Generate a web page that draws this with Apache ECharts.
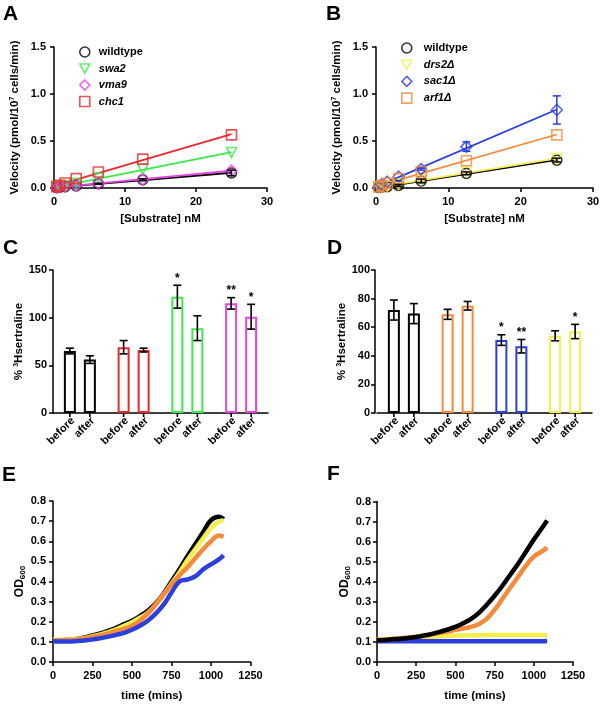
<!DOCTYPE html>
<html><head><meta charset="utf-8">
<script src="https://cdn.jsdelivr.net/npm/echarts@6/dist/echarts.min.js"></script>
<style>html,body{margin:0;padding:0;background:#fff}#c{width:603px;height:706px}</style>
</head><body><div id="c"></div>
<script>
const FONT = "'Liberation Sans', Arial, Helvetica, sans-serif";

// ---------- Panel A ----------
const substrate = [0.39, 0.78, 1.56, 3.125, 6.25, 12.5, 25];
const A_names = ['wildtype', 'swa2', 'vma9', 'chc1'];
const A_wildtype = [0.005, 0.01, 0.015, 0.022, 0.045, 0.088, 0.16];
const A_swa2 = [0.008, 0.014, 0.025, 0.05, 0.105, 0.2, 0.378];
const A_vma9 = [0.005, 0.01, 0.015, 0.025, 0.05, 0.09, 0.185];
const A_chc1 = [0.015, 0.03, 0.053, 0.1, 0.17, 0.307, 0.565];
const A_wildtype_err = [0, 0, 0, 0, 0.005, 0.01, 0.03];

// ---------- Panel B ----------
const B_names = ['wildtype', 'drs2Δ', 'sac1Δ', 'arf1Δ'];
const B_wildtype = [0.005, 0.01, 0.015, 0.028, 0.075, 0.156, 0.297];
const B_drs2 = [0.006, 0.012, 0.02, 0.04, 0.085, 0.17, 0.31];
const B_sac1 = [0.02, 0.04, 0.067, 0.12, 0.2, 0.44, 0.83];
const B_arf1 = [0.012, 0.025, 0.05, 0.1, 0.174, 0.29, 0.565];
const B_wildtype_err = [0, 0, 0, 0.01, 0.02, 0.015, 0.02];
const B_sac1_err = [0, 0, 0, 0, 0.01, 0.05, 0.15];

// ---------- Panel C ----------
const barLabels = ['before', 'after'];
const C_groups = ['wildtype', 'chc1', 'swa2', 'vma9'];
const C_before = [65, 69, 122, 115];
const C_before_err = [3, 7, 12, 6];
const C_after = [56, 66, 89, 101];
const C_after_err = [4, 2, 13, 13];
const C_before_sig = ['', '', '*', '**'];
const C_after_sig = ['', '', '', '*'];

// ---------- Panel D ----------
const D_groups = ['wildtype', 'arf1Δ', 'sac1Δ', 'drs2Δ'];
const D_before = [72, 69, 51, 54];
const D_before_err = [7, 3.5, 3.7, 3.5];
const D_after = [69.5, 75, 46.7, 57];
const D_after_err = [7, 3, 4.7, 5];
const D_before_sig = ['', '', '*', ''];
const D_after_sig = ['', '', '**', '*'];

// ---------- Panel E ----------
const E_time = [0, 50, 100, 150, 200, 250, 300, 350, 400, 450, 500, 550, 600, 650, 700, 750, 800, 850, 900, 950, 1000, 1050, 1080];
const E_black = [0.107, 0.108, 0.11, 0.115, 0.122, 0.132, 0.142, 0.155, 0.17, 0.188, 0.205, 0.228, 0.255, 0.29, 0.34, 0.40, 0.46, 0.525, 0.585, 0.645, 0.705, 0.722, 0.71];
const E_yellow = [0.11, 0.11, 0.112, 0.115, 0.12, 0.128, 0.137, 0.148, 0.162, 0.18, 0.198, 0.22, 0.245, 0.285, 0.335, 0.39, 0.445, 0.505, 0.56, 0.615, 0.665, 0.698, 0.705];
const E_orange = [0.107, 0.108, 0.11, 0.112, 0.117, 0.124, 0.132, 0.142, 0.154, 0.165, 0.18, 0.205, 0.24, 0.285, 0.335, 0.385, 0.43, 0.47, 0.515, 0.56, 0.60, 0.628, 0.622];
const E_blue = [0.103, 0.102, 0.102, 0.104, 0.107, 0.112, 0.118, 0.126, 0.135, 0.145, 0.16, 0.18, 0.205, 0.24, 0.285, 0.345, 0.40, 0.41, 0.425, 0.46, 0.485, 0.51, 0.53];

// ---------- Panel F ----------
const F_time = [0, 50, 100, 150, 200, 250, 300, 350, 400, 450, 500, 550, 600, 650, 700, 750, 800, 850, 900, 950, 1000, 1050, 1085];
const F_black = [0.108, 0.11, 0.113, 0.116, 0.12, 0.125, 0.132, 0.14, 0.15, 0.162, 0.175, 0.193, 0.215, 0.245, 0.285, 0.33, 0.38, 0.435, 0.49, 0.55, 0.61, 0.665, 0.705];
const F_orange = [0.11, 0.112, 0.115, 0.118, 0.122, 0.126, 0.131, 0.137, 0.145, 0.152, 0.16, 0.167, 0.175, 0.19, 0.215, 0.26, 0.315, 0.37, 0.425, 0.48, 0.525, 0.55, 0.57];
const F_yellow = [0.112, 0.114, 0.116, 0.118, 0.12, 0.122, 0.124, 0.126, 0.128, 0.13, 0.131, 0.132, 0.133, 0.133, 0.134, 0.134, 0.134, 0.135, 0.135, 0.135, 0.135, 0.135, 0.135];
const F_blue = [0.103, 0.103, 0.103, 0.103, 0.104, 0.104, 0.104, 0.104, 0.104, 0.104, 0.104, 0.104, 0.104, 0.104, 0.104, 0.104, 0.104, 0.104, 0.104, 0.104, 0.104, 0.104, 0.105];

// ---------- styles ----------
const COL = {black:'#000000', green:'#3de84a', magenta:'#e544e5', red:'#e8282c',
             yellow:'#f4ee4e', blue:'#2b3fdc', orange:'#f58a3b'};
const A_colors = [COL.black, COL.green, COL.magenta, COL.red];
const B_colors = [COL.black, COL.yellow, COL.blue, COL.orange];
const C_colors = [COL.black, COL.red, COL.green, COL.magenta];
const D_colors = [COL.black, COL.orange, COL.blue, COL.yellow];
const TRI_DOWN = 'path://M0,0L10,0L5,9Z';
const symbols = ['circle', TRI_DOWN, 'diamond', 'rect'];
const symSizes = [10, 10, 11, 10];

const lab = {color:'#000', fontFamily:FONT, fontWeight:'bold', fontSize:11};
const axLine = {show:true, lineStyle:{color:'#000', width:1.5}};
const axTick = {show:true, length:4, lineStyle:{color:'#000', width:1.5}};
const nameStyle = {color:'#000', fontFamily:FONT, fontWeight:'bold', fontSize:11.5};

function fit(xs, ys) {
  const n = xs.length;
  let sx=0, sy=0, sxx=0, sxy=0;
  for (let i=0;i<n;i++){sx+=xs[i];sy+=ys[i];sxx+=xs[i]*xs[i];sxy+=xs[i]*ys[i];}
  const m = (n*sxy - sx*sy)/(n*sxx - sx*sx);
  const b = (sy - m*sx)/n;
  return [[0, b], [xs[n-1], m*xs[n-1]+b]];
}

function errRender(params, api) {
  const x = api.value(0), y = api.value(1), e = api.value(2);
  if (!e) return;
  const lo = api.coord([x, y - e]), hi = api.coord([x, y + e]);
  const st = {stroke: api.visual('color'), lineWidth: 1.5};
  const h = 4;
  return {type:'group', children:[
    {type:'line', shape:{x1:lo[0], y1:lo[1], x2:hi[0], y2:hi[1]}, style:st},
    {type:'line', shape:{x1:lo[0]-h, y1:lo[1], x2:lo[0]+h, y2:lo[1]}, style:st},
    {type:'line', shape:{x1:hi[0]-h, y1:hi[1], x2:hi[0]+h, y2:hi[1]}, style:st}
  ]};
}

function kinetics(idx, names, arrays, colors, errs) {
  const out = [];
  names.forEach((nm, k) => {
    out.push({type:'line', name: nm + ' fit', xAxisIndex:idx, yAxisIndex:idx, data: fit(substrate, arrays[k]),
      showSymbol:false, lineStyle:{color:colors[k], width:1.8}, z:2, silent:true});
  });
  names.forEach((nm, k) => {
    out.push({type:'scatter', name: nm, xAxisIndex:idx, yAxisIndex:idx,
      data: substrate.map((x,i)=>[x, arrays[k][i]]),
      symbol: symbols[k], symbolSize: symSizes[k],
      itemStyle:{color:'rgba(255,255,255,0)', borderColor:colors[k], borderWidth:1.6}, z:3});
  });
  errs.forEach(e => {
    out.push({type:'custom', xAxisIndex:idx, yAxisIndex:idx, renderItem: errRender, clip:false,
      itemStyle:{color: e.color}, z:4,
      data: substrate.map((x,i)=>[x, e.vals[i], e.err[i]])});
  });
  return out;
}

function barPanel(idx, groups, before, beforeErr, after, afterErr, sigB, sigA, colors) {
  const out = [];
  [before, after].forEach((arr, s) => {
    out.push({type:'bar', name: barLabels[s] + idx, xAxisIndex:idx, yAxisIndex:idx, barWidth:12, barGap:'66.7%',
      data: arr.map((v,i)=>({value:v, itemStyle:{color:'#fff', borderColor:colors[i], borderWidth:2}})), z:2});
  });
  const data = [], sig = [];
  groups.forEach((g,i)=>{
    data.push([i, before[i], beforeErr[i], 0]); sig.push(sigB[i]);
    data.push([i, after[i], afterErr[i], 1]); sig.push(sigA[i]);
  });
  out.push({type:'custom', xAxisIndex:idx, yAxisIndex:idx, clip:false, z:5, data,
    renderItem: function(params, api){
      const i = api.value(0), v = api.value(1), e = api.value(2), s = api.value(3);
      const c = api.coord([i, v]);
      const x = c[0] + (s ? 10 : -10);
      const top = api.coord([i, v + e])[1], bot = api.coord([i, v - e])[1];
      const base = api.coord([i, 0])[1];
      const st = {stroke:'#000', lineWidth:1.6};
      const ch = [
        {type:'line', shape:{x1:x, y1:top, x2:x, y2:bot}, style:st},
        {type:'line', shape:{x1:x-4, y1:top, x2:x+4, y2:top}, style:st},
        {type:'line', shape:{x1:x-4, y1:bot, x2:x+4, y2:bot}, style:st},
        {type:'line', shape:{x1:x, y1:base, x2:x, y2:base+4}, style:st},
        {type:'text', x: x + 3, y: base + 6, rotation: Math.PI/4,
          style:{text: barLabels[s], align:'right', verticalAlign:'middle', fill:'#000',
                 font: 'bold 11px ' + FONT}}
      ];
      const sg = sig[params.dataIndex];
      if (sg) ch.push({type:'text', x:x, y: top - 1,
          style:{text: sg, align:'center', verticalAlign:'bottom', fill:'#000', font:'bold 12px ' + FONT}});
      return {type:'group', children: ch};
    }});
  return out;
}

function growth(idx, time, arrays, colors) {
  return arrays.map((arr, k) => ({type:'line', xAxisIndex:idx, yAxisIndex:idx,
    data: time.map((t,i)=>[t, arr[i]]), showSymbol:false, smooth:0.4,
    lineStyle:{color:colors[k], width:4.5}, z:2 + k}));
}

const velName = '{a|Velocity (pmol/10}{s|7}{a| cells/min)}';
const velRich = {a:{fontFamily:FONT, fontWeight:'bold', fontSize:11.5, color:'#000'},
                 s:{fontFamily:FONT, fontWeight:'bold', fontSize:7, color:'#000', verticalAlign:'top', padding:[0,0,5,0]}};
const sertName = '{a|% }{s|3}{a|Hsertraline}';
const odName = '{a|OD}{s|600}';
const odRich = {a:{fontFamily:FONT, fontWeight:'bold', fontSize:12, color:'#000'},
                s:{fontFamily:FONT, fontWeight:'bold', fontSize:8, color:'#000', verticalAlign:'bottom', padding:[6,0,0,0]}};

function valX(grid, min, max, interval, name, gap, margin, offset) {
  return {type:'value', gridIndex:grid, min, max, interval, name, nameLocation:'middle', nameGap:gap,
    nameTextStyle: nameStyle, axisLine:axLine, axisTick:axTick, splitLine:{show:false},
    axisLabel:Object.assign({margin:margin, formatter: v => String(v)}, lab), offset: offset || 0};
}
function valY(grid, min, max, interval, name, rich, gap, margin, dec, offset) {
  return {type:'value', gridIndex:grid, min, max, interval, name, nameLocation:'middle', nameGap:gap,
    nameRotate:90, nameTextStyle: Object.assign({}, nameStyle, {rich}), axisLine:axLine, axisTick:axTick,
    splitLine:{show:false}, offset: offset || 0,
    axisLabel:Object.assign({margin:margin, formatter: v => dec ? v.toFixed(dec) : String(v)}, lab)};
}
function catX(grid, data) {
  return {type:'category', gridIndex:grid, data, axisLine:axLine, axisTick:{show:false},
    axisLabel:{show:false}, splitLine:{show:false}};
}

function legendData(names, colors) {
  return names.map((n,k)=>({name:n, icon: symbols[k],
    itemStyle:{color:'rgba(255,255,255,0)', borderColor:colors[k], borderWidth:1.6},
    textStyle: k === 0 ? {} : {fontStyle:'italic'}}));
}
const legTextA = {fontFamily:FONT, fontWeight:'bold', fontSize:11, color:'#000', lineHeight:12, padding:[0,0,0,4]};
const legTextB = {fontFamily:FONT, fontWeight:'bold', fontSize:11, color:'#000', lineHeight:12, padding:[0,0,0,7]};

const letters = [['A',3,4],['B',326,4],['C',3,238],['D',327,238],['E',2,465],['F',327,464]];

const option = {
  animation:false,
  backgroundColor:'#fff',
  title: letters.map(l => ({text:l[0], left:l[1], top:l[2], padding:0,
    textStyle:{fontFamily:FONT, fontWeight:'bold', fontSize:21, color:'#000'}})),
  legend: [
    {left:79, top:46, orient:'vertical', itemWidth:10, itemHeight:10, itemGap:4.5, padding:0,
     symbolKeepAspect:true, selectedMode:false, textStyle:legTextA, data: legendData(A_names, A_colors)},
    {left:401, top:42, orient:'vertical', itemWidth:10, itemHeight:10, itemGap:4.7, padding:0,
     symbolKeepAspect:true, selectedMode:false, textStyle:legTextB, data: legendData(B_names, B_colors)}
  ],
  grid: [
    {left:54, top:47, width:213, height:141, outerBoundsMode:'none'},
    {left:376, top:47, width:217, height:141, outerBoundsMode:'none'},
    {left:53, top:270, width:215, height:143, outerBoundsMode:'none'},
    {left:377, top:270, width:215, height:143, outerBoundsMode:'none'},
    {left:53, top:501, width:197.5, height:161, outerBoundsMode:'none'},
    {left:377, top:501.5, width:196, height:160.5, outerBoundsMode:'none'}
  ],
  xAxis: [
    valX(0, 0, 30, 10, '[Substrate] nM', 24, 7, 1),
    valX(1, 0, 30, 10, '[Substrate] nM', 24, 7, 1),
    catX(2, C_groups),
    catX(3, D_groups),
    valX(4, 0, 1250, 250, 'time (mins)', 28, 8),
    valX(5, 0, 1250, 250, 'time (mins)', 28, 8)
  ],
  yAxis: [
    valY(0, 0, 1.5, 0.5, velName, velRich, 33, 8, 1),
    valY(1, 0, 1.5, 0.5, velName, velRich, 33, 8, 1),
    valY(2, 0, 150, 50, sertName, velRich, 27, 6, 0),
    valY(3, 0, 100, 20, sertName, velRich, 25, 5, 0, 2),
    valY(4, 0, 0.8, 0.1, odName, odRich, 24, 6, 1, 1),
    valY(5, 0, 0.8, 0.1, odName, odRich, 24, 6, 1)
  ],
  series: [].concat(
    kinetics(0, A_names, [A_wildtype, A_swa2, A_vma9, A_chc1], A_colors,
      [{vals:A_wildtype, err:A_wildtype_err, color:COL.black}]),
    kinetics(1, B_names, [B_wildtype, B_drs2, B_sac1, B_arf1], B_colors,
      [{vals:B_wildtype, err:B_wildtype_err, color:COL.black}, {vals:B_sac1, err:B_sac1_err, color:COL.blue}]),
    barPanel(2, C_groups, C_before, C_before_err, C_after, C_after_err, C_before_sig, C_after_sig, C_colors),
    barPanel(3, D_groups, D_before, D_before_err, D_after, D_after_err, D_before_sig, D_after_sig, D_colors),
    growth(4, E_time, [E_black, E_yellow, E_orange, E_blue], [COL.black, COL.yellow, COL.orange, COL.blue]),
    growth(5, F_time, [F_yellow, F_blue, F_orange, F_black], [COL.yellow, COL.blue, COL.orange, COL.black])
  )
};
const chart = echarts.init(document.getElementById('c'), null, {renderer:'canvas'});
chart.setOption(option);
</script>
</body></html>
